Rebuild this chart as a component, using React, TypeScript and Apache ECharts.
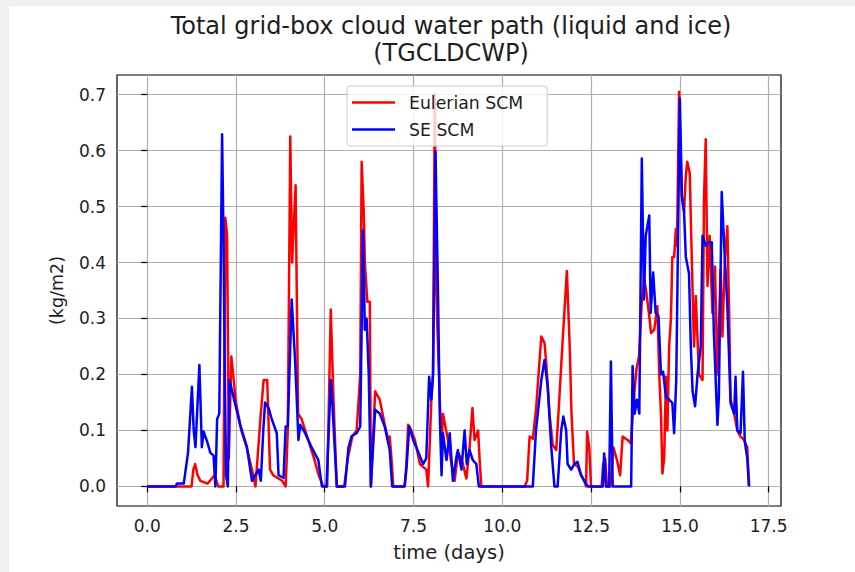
import React, { useEffect, useRef } from "react";
import * as echarts from "echarts";

// Eulerian SCM (red): time (days) and value (kg/m2)
const eulerT = [
  0, 1.25, 1.3, 1.35, 1.42, 1.5, 1.7, 1.9, 2.0, 2.15,
  2.2, 2.25, 2.3, 2.37, 2.5, 2.65, 2.8, 2.95, 3.05, 3.2,
  3.28, 3.38, 3.46, 3.55, 3.8, 3.9, 3.96, 4.03, 4.08, 4.18,
  4.25, 4.35, 4.5, 4.7, 4.83, 4.96, 5.07, 5.17, 5.25, 5.34,
  5.55, 5.65, 5.78, 5.9, 6.0, 6.04, 6.1, 6.13, 6.2, 6.27,
  6.3, 6.42, 6.55, 6.69, 6.8, 6.83, 6.88, 6.93, 7.25, 7.3,
  7.35, 7.44, 7.54, 7.68, 7.77, 7.86, 7.91, 7.96, 8.0, 8.05,
  8.1, 8.14, 8.24, 8.29, 8.33, 8.47, 8.57, 8.66, 8.75, 8.85,
  8.99, 9.08, 9.16, 9.22, 9.32, 9.36, 9.41, 10.63, 10.7, 10.77,
  10.86, 10.95, 11.1, 11.19, 11.24, 11.33, 11.42, 11.52, 11.61, 11.7,
  11.82, 11.9, 11.95, 12.02, 12.13, 12.22, 12.31, 12.36, 12.39, 12.45,
  12.5, 12.8, 12.84, 12.9, 12.95, 13.05, 13.13, 13.23, 13.32, 13.39,
  13.53, 13.62, 13.71, 13.78, 13.85, 13.93, 14.0, 14.05, 14.14, 14.19,
  14.28, 14.37, 14.42, 14.47, 14.51, 14.56, 14.61, 14.65, 14.7, 14.75,
  14.79, 14.84, 14.89, 14.92, 14.98, 15.05, 15.12, 15.17, 15.21, 15.28,
  15.34, 15.4, 15.45, 15.54, 15.64, 15.68, 15.73, 15.78, 15.84, 15.92,
  15.99, 16.06, 16.15, 16.2, 16.27, 16.34, 16.39, 16.43, 16.53, 16.62,
  16.71, 16.81, 16.9, 16.95,
];
const eulerV = [
  0, 0, 0.03, 0.04, 0.02, 0.01, 0.005, 0.02, 0, 0,
  0.48, 0.45, 0.05, 0.232, 0.15, 0.1, 0.07, 0.03, 0, 0.13,
  0.19, 0.19, 0.03, 0.02, 0.01, 0, 0.1, 0.625, 0.4, 0.538,
  0.13, 0.12, 0.09, 0.05, 0.02, 0, 0, 0.316, 0.15, 0,
  0, 0.05, 0.09, 0.1, 0.2, 0.58, 0.49, 0.4, 0.33, 0.33,
  0, 0.17, 0.155, 0.11, 0.08, 0.089, 0.05, 0, 0, 0.04,
  0.11, 0.1, 0.083, 0.04, 0.035, 0.03, 0, 0.08, 0.15, 0.2,
  0.7, 0.35, 0.155, 0.07, 0.13, 0.083, 0.04, 0.01, 0.06, 0.05,
  0.014, 0.07, 0.14, 0.083, 0.1, 0.05, 0, 0, 0.01, 0.089,
  0.085, 0.137, 0.268, 0.256, 0.22, 0.13, 0.074, 0.065, 0.16, 0.26,
  0.385, 0.25, 0.13, 0.04, 0.035, 0.02, 0.01, 0, 0.098, 0.07,
  0, 0, 0.04, 0.05, 0, 0, 0.07, 0.047, 0.02, 0.089,
  0.083, 0.077, 0.16, 0.21, 0.232, 0.33, 0.37, 0.35, 0.304, 0.274,
  0.28, 0.322, 0.2, 0.13, 0.023, 0.05, 0.196, 0.1, 0.25, 0.3,
  0.41, 0.41, 0.46, 0.43, 0.705, 0.52, 0.49, 0.556, 0.58, 0.56,
  0.4, 0.25, 0.34, 0.2, 0.19, 0.51, 0.62, 0.358, 0.448, 0.31,
  0.393, 0.2, 0.387, 0.268, 0.406, 0.465, 0.31, 0.155, 0.13, 0.1,
  0.089, 0.083, 0.07, 0,
];

// SE SCM (blue)
const seT = [
  0, 0.8, 0.84, 0.98, 1.03, 1.15, 1.26, 1.31, 1.36, 1.47,
  1.54, 1.59, 1.69, 1.78, 1.87, 1.92, 1.97, 2.03, 2.11, 2.15,
  2.18, 2.22, 2.27, 2.32, 2.43, 2.62, 2.81, 2.95, 3.04, 3.14,
  3.2, 3.27, 3.32, 3.42, 3.51, 3.65, 3.7, 3.84, 3.9, 3.96,
  4.07, 4.17, 4.21, 4.26, 4.31, 4.45, 4.63, 4.82, 4.92, 5.05,
  5.17, 5.2, 5.34, 5.57, 5.67, 5.76, 5.9, 6.0, 6.08, 6.13,
  6.18, 6.24, 6.3, 6.42, 6.55, 6.69, 6.83, 6.9, 7.25, 7.3,
  7.38, 7.49, 7.58, 7.77, 7.86, 7.94, 8.0, 8.05, 8.12, 8.19,
  8.24, 8.29, 8.33, 8.43, 8.52, 8.61, 8.71, 8.75, 8.85, 8.94,
  9.0, 9.08, 9.17, 9.27, 9.34, 10.86, 10.95, 11.1, 11.19, 11.28,
  11.38, 11.47, 11.56, 11.66, 11.72, 11.8, 11.84, 11.94, 12.03, 12.12,
  12.22, 12.31, 12.41, 12.83, 12.87, 12.92, 13.01, 13.06, 13.11, 13.63,
  13.67, 13.73, 13.79, 13.86, 13.93, 13.99, 14.04, 14.14, 14.18, 14.25,
  14.32, 14.4, 14.47, 14.53, 14.61, 14.7, 14.79, 14.84, 14.9, 15.0,
  15.06, 15.12, 15.17, 15.26, 15.31, 15.36, 15.43, 15.5, 15.59, 15.64,
  15.73, 15.82, 15.9, 15.96, 16.06, 16.1, 16.18, 16.25, 16.34, 16.43,
  16.53, 16.57, 16.62, 16.71, 16.78, 16.83, 16.9, 16.95,
];
const seV = [
  0, 0, 0.005, 0.005, 0.005, 0.06, 0.178, 0.1, 0.07, 0.217,
  0.07, 0.098, 0.08, 0.06, 0.055, 0, 0.12, 0.13, 0.629, 0.44,
  0.24, 0.02, 0, 0.19, 0.16, 0.11, 0.07, 0.01, 0.02, 0.03,
  0.01, 0.1, 0.15, 0.14, 0.12, 0.095, 0.02, 0.015, 0.107, 0.107,
  0.334, 0.22, 0.16, 0.083, 0.11, 0.095, 0.07, 0.047, 0, 0,
  0.19, 0.166, 0, 0, 0.07, 0.09, 0.095, 0.107, 0.457, 0.28,
  0.3, 0.2, 0, 0.137, 0.13, 0.107, 0.065, 0, 0, 0.03,
  0.107, 0.083, 0.07, 0.04, 0.05, 0.196, 0.155, 0.2, 0.598, 0.346,
  0.13, 0.02, 0.095, 0.047, 0.095, 0.01, 0.053, 0.065, 0.03, 0.1,
  0.04, 0.065, 0.047, 0.04, 0, 0, 0.1, 0.19, 0.226, 0.178,
  0.07, 0, 0, 0.1, 0.125, 0.1, 0.04, 0.03, 0.04, 0.044,
  0.02, 0.01, 0, 0, 0.059, 0, 0, 0.223, 0, 0,
  0.215, 0.13, 0.155, 0.13, 0.586, 0.334, 0.448, 0.484, 0.31, 0.382,
  0.31, 0.304, 0.2, 0.205, 0.16, 0.155, 0.149, 0.095, 0.19, 0.693,
  0.52, 0.49, 0.41, 0.38, 0.25, 0.17, 0.143, 0.2, 0.25, 0.448,
  0.43, 0.436, 0.436, 0.274, 0.11, 0.16, 0.526, 0.43, 0.322, 0.149,
  0.13, 0.196, 0.1, 0.095, 0.205, 0.08, 0.05, 0,
];

const xTicks = [0, 2.5, 5, 7.5, 10, 12.5, 15, 17.5];
const yTicks = [0, 0.1, 0.2, 0.3, 0.4, 0.5, 0.6, 0.7];

const FONT = "DejaVu Sans";
const TXT = "#1e1e1e";

export default function App() {
  const ref = useRef<HTMLDivElement>(null);
  useEffect(() => {
    const chart = echarts.init(ref.current!, null, { renderer: "svg" });
    const axisCommon = {
      type: "value" as const,
      axisLine: { show: false },
      nameLocation: "middle" as const,
      splitLine: { show: true, lineStyle: { color: "#b0b0b0", width: 1.2 } },
    };
    chart.setOption({
      animation: false,
      title: {
        text: "Total grid-box cloud water path (liquid and ice)\n(TGCLDCWP)",
        left: 437,
        top: 1,
        textAlign: "center",
        textStyle: { fontFamily: FONT, fontSize: 24, fontWeight: "normal", color: TXT, lineHeight: 27 },
      },
      legend: {
        orient: "vertical",
        left: 338,
        top: 80,
        icon: "rect",
        itemWidth: 43,
        itemHeight: 2.5,
        itemGap: 10,
        padding: [8, 24, 8, 5],
        backgroundColor: "rgba(255,255,255,0.8)",
        borderColor: "#cccccc",
        borderWidth: 1,
        borderRadius: 3,
        textStyle: { fontFamily: FONT, fontSize: 17.3, color: TXT, padding: [0, 0, 0, 9] },
        data: ["Eulerian SCM", "SE SCM"],
      },
      grid: {
        left: 108,
        top: 69,
        width: 664,
        height: 431,
        show: true,
        borderColor: "#000",
        borderWidth: 1.2,
        backgroundColor: "transparent",
      },
      xAxis: {
        ...axisCommon,
        min: -0.85,
        max: 17.85,
        name: "time (days)",
        nameGap: 36,
        nameTextStyle: { fontFamily: FONT, fontSize: 19.5, color: TXT },
        axisTick: { show: true, inside: false, length: 6, customValues: xTicks, lineStyle: { color: "#000", width: 1.2 } },
        axisLabel: {
          customValues: xTicks,
          formatter: (v: number) => v.toFixed(1),
          fontFamily: FONT,
          fontSize: 17,
          color: TXT,
          margin: 11,
        },
      },
      yAxis: {
        ...axisCommon,
        min: -0.035,
        max: 0.735,
        name: "(kg/m2)",
        nameGap: 51,
        nameTextStyle: { fontFamily: FONT, fontSize: 17.5, color: TXT },
        axisTick: { show: true, inside: false, length: 6, customValues: yTicks, lineStyle: { color: "#000", width: 1.2 } },
        axisLabel: {
          customValues: yTicks,
          formatter: (v: number) => v.toFixed(1),
          fontFamily: FONT,
          fontSize: 17,
          color: TXT,
          margin: 11,
        },
      },
      series: [
        {
          name: "Eulerian SCM",
          type: "line",
          data: eulerT.map((t, i) => [t, eulerV[i]]),
          showSymbol: false,
          symbol: "none",
          lineStyle: { color: "#ff0000", width: 2.5, join: "round" },
          itemStyle: { color: "#ff0000" },
          z: 2,
        },
        {
          name: "SE SCM",
          type: "line",
          data: seT.map((t, i) => [t, seV[i]]),
          showSymbol: false,
          symbol: "none",
          lineStyle: { color: "#0000ff", width: 2.5, join: "round" },
          itemStyle: { color: "#0000ff" },
          z: 3,
        },
      ],
    });
    return () => chart.dispose();
  }, []);
  return (
    <div style={{ position: "fixed", left: 0, top: 0, width: 855, height: 572, background: "#f0f0f0" }}>
      <div
        ref={ref}
        style={{ position: "absolute", left: 9, top: 6, width: 846, height: 566, background: "#ffffff" }}
      />
    </div>
  );
}
